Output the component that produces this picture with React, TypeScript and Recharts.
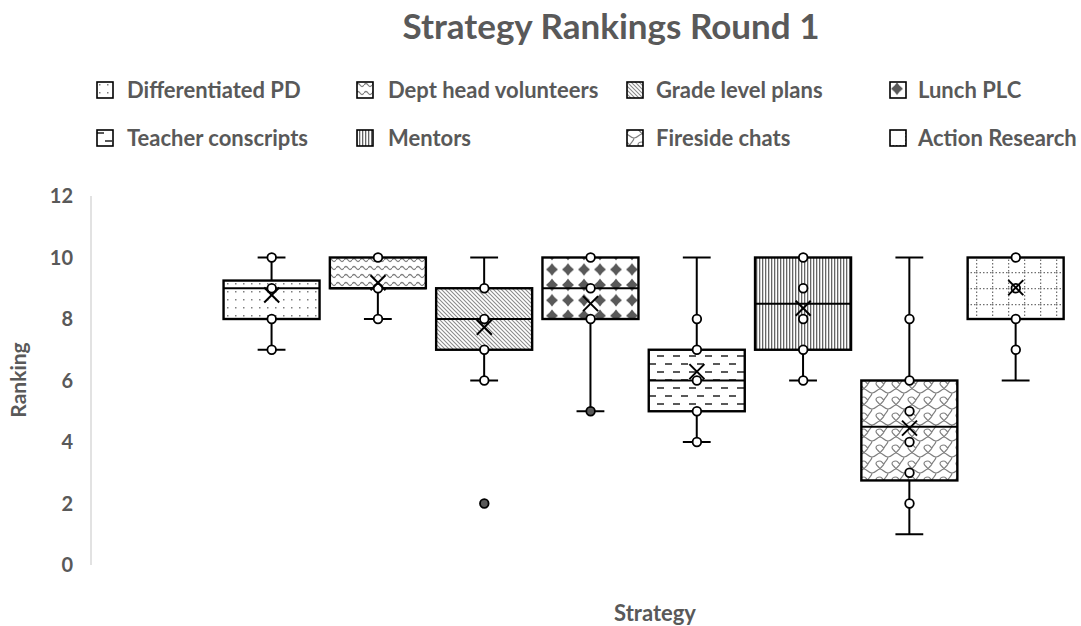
import React from 'react';
import { ComposedChart, Bar, Scatter, XAxis, YAxis } from 'recharts';

// ---------- data ----------
const seriesNames = [
  'Differentiated PD',
  'Dept head volunteers',
  'Grade level plans',
  'Lunch PLC',
  'Teacher conscripts',
  'Mentors',
  'Fireside chats',
  'Action Research',
];
const minValues = [7, 8, 6, 5, 4, 6, 1, 6];
const q1Values = [8, 9, 7, 8, 5, 7, 2.75, 8];
const medianValues: (number | null)[] = [9, 9, 8, 9, 6, 8.5, 4.5, null];
const q3Values = [9.25, 10, 9, 10, 7, 10, 6, 10];
const maxValues = [10, 10, 10, 10, 10, 10, 10, 10];
const meanValues = [8.78, 9.18, 7.73, 8.5, 6.29, 8.35, 4.45, 9.02];
const pointValues = [
  [10, 9, 8, 7],
  [10, 9, 8],
  [9, 8, 7, 6, 2],
  [10, 9, 8, 5],
  [8, 7, 6, 5, 4],
  [10, 9, 8, 7, 6],
  [8, 6, 5, 4, 3, 2],
  [10, 9, 8, 7],
];
const darkPoints = [
  { series: 2, value: 2 },
  { series: 3, value: 5 },
];
const yTicks = [0, 2, 4, 6, 8, 10, 12];

const boxRows = seriesNames.map((name, i) => ({
  name,
  pos: i,
  box: [q1Values[i], q3Values[i]],
  min: minValues[i],
  q1: q1Values[i],
  median: medianValues[i],
  q3: q3Values[i],
  max: maxValues[i],
}));
const pointRows = pointValues.flatMap((vals, i) => vals.map((v) => ({ pos: i, value: v })));
const meanRows = meanValues.map((m, i) => ({ pos: i, value: m }));

const GRAY = '#595959';
const FONT = 'Lato, "Open Sans", sans-serif';

function Patterns() {
  return (
    <svg width={0} height={0} style={{ position: 'absolute' }}>
      <defs>
        <pattern id="pat0" patternUnits="userSpaceOnUse" width={8} height={8}>
          <rect width={8} height={8} fill="#fff" />
          <rect x={3} y={3} width={1.5} height={1.5} fill="#7f7f7f" />
        </pattern>
        <pattern id="pat1" patternUnits="userSpaceOnUse" width={8} height={8}>
          <rect width={8} height={8} fill="#fff" />
          <path d="M0 4 Q2 1 4 4 T8 4" fill="none" stroke="#7f7f7f" strokeWidth={1.3} />
        </pattern>
        <pattern id="pat2" patternUnits="userSpaceOnUse" width={4} height={4}>
          <rect width={4} height={4} fill="#fff" />
          <path d="M0 0 L4 4 M-1 3 L1 5 M3 -1 L5 1" stroke="#8a8a8a" strokeWidth={1.05} />
        </pattern>
        <pattern id="pat3" patternUnits="userSpaceOnUse" width={16} height={15.4}>
          <rect width={16} height={15.4} fill="#fff" />
          <polygon points="8,1.5 10.5,4.5 14,7.7 10.5,10.9 8,13.9 5.5,10.9 2,7.7 5.5,4.5" fill={GRAY} />
        </pattern>
        <pattern id="pat4" patternUnits="userSpaceOnUse" width={16} height={16}>
          <rect width={16} height={16} fill="#fff" />
          <path d="M1 4 L8 4 M9 12 L16 12" stroke={GRAY} strokeWidth={1.8} />
        </pattern>
        <pattern id="pat5" patternUnits="userSpaceOnUse" width={3} height={4}>
          <rect width={3} height={4} fill="#fff" />
          <rect x={0} y={0} width={1.3} height={4} fill="#666" />
        </pattern>
        <pattern id="pat6" patternUnits="userSpaceOnUse" width={16} height={16}>
          <rect width={16} height={16} fill="#fff" />
          <path
            d="M0 5 C3 5 4 9 8 9 C12 9 13 5 16 5 M8 9 C8 12 5 13 4 16 M4 0 C3 2 1 3 0 5 M16 5 C15 3 13 2 12 0 M0 13 C2 13 3 16 4 16 M12 16 C12 13 14 13 16 13"
            fill="none"
            stroke="#7f7f7f"
            strokeWidth={1.2}
          />
        </pattern>
        <pattern id="pat7" patternUnits="userSpaceOnUse" width={16} height={16}>
          <rect width={16} height={16} fill="#fff" />
          <path d="M0 0.6 L16 0.6 M0.6 0 L0.6 16" stroke="#6f6f6f" strokeWidth={1.3} strokeDasharray="1.5 2" />
        </pattern>
      </defs>
    </svg>
  );
}

function BoxShape(props: any) {
  const { x, y, width, height, payload } = props;
  if (!payload) return null;
  const { q1, q3, min, max, median, pos } = payload;
  const top = Math.min(y, y + height);
  const h = Math.abs(height);
  const toPx = (v: number) => top + (h * (q3 - v)) / (q3 - q1);
  const cx = x + width / 2;
  const cap = width * 0.29;
  const line = { stroke: '#000', strokeWidth: 2 };
  return (
    <g>
      {max > q3 && (
        <g>
          <line x1={cx} x2={cx} y1={toPx(max)} y2={top} {...line} />
          <line x1={cx - cap / 2} x2={cx + cap / 2} y1={toPx(max)} y2={toPx(max)} {...line} />
        </g>
      )}
      {min < q1 && (
        <g>
          <line x1={cx} x2={cx} y1={top + h} y2={toPx(min)} {...line} />
          <line x1={cx - cap / 2} x2={cx + cap / 2} y1={toPx(min)} y2={toPx(min)} {...line} />
        </g>
      )}
      <rect x={x} y={top} width={width} height={h} fill={`url(#pat${pos})`} stroke="#000" strokeWidth={2.4} />
      {median != null && (
        <line x1={x} x2={x + width} y1={toPx(median)} y2={toPx(median)} stroke="#000" strokeWidth={2} />
      )}
    </g>
  );
}

function PointShape(props: any) {
  const { cx, cy, payload } = props;
  const dark = darkPoints.some((d) => d.series === payload.pos && d.value === payload.value);
  return <circle cx={cx} cy={cy} r={4.3} fill={dark ? GRAY : '#fff'} stroke="#000" strokeWidth={1.8} />;
}

function MeanShape(props: any) {
  const { cx, cy } = props;
  const s = 7.5;
  return (
    <g stroke="#000" strokeWidth={2}>
      <line x1={cx - s} y1={cy - s} x2={cx + s} y2={cy + s} />
      <line x1={cx - s} y1={cy + s} x2={cx + s} y2={cy - s} />
    </g>
  );
}

const legendIconX = [96, 356, 626, 889];
const legendTextX = [127, 388, 656, 918];
const legendRows = [81, 129];

function LegendBlock() {
  return (
    <>
      {seriesNames.map((name, i) => {
        const col = i % 4;
        const row = Math.floor(i / 4);
        return (
          <React.Fragment key={name}>
            <svg
              width={18}
              height={18}
              style={{ position: 'absolute', left: legendIconX[col], top: legendRows[row], display: 'block' }}
            >
              <rect x={1} y={1} width={16} height={16} fill={`url(#pat${i})`} stroke="#000" strokeWidth={1.6} />
            </svg>
            <div
              style={{
                position: 'absolute',
                left: legendTextX[col],
                top: legendRows[row] - 4,
                fontFamily: FONT,
                fontWeight: 700,
                fontSize: 22,
                color: GRAY,
                lineHeight: '26px',
                whiteSpace: 'nowrap',
              }}
            >
              {name}
            </div>
          </React.Fragment>
        );
      })}
    </>
  );
}

export default function App() {
  return (
    <div
      style={{
        position: 'absolute',
        left: 0,
        top: 0,
        width: 1081,
        height: 626,
        background: '#fff',
        overflow: 'hidden',
      }}
    >
      <Patterns />
      <div style={{ position: 'absolute', left: 0, top: 0 }}>
        <ComposedChart
          width={1081}
          height={626}
          data={boxRows}
          margin={{ top: 196, right: 6, bottom: 61, left: 0 }}
        >
          <XAxis dataKey="pos" type="number" domain={[-1.7, 7.557]} hide height={0} allowDataOverflow />
          <YAxis
            type="number"
            domain={[0, 12]}
            ticks={yTicks}
            width={91}
            tickLine={false}
            tickMargin={12}
            axisLine={{ stroke: '#d9d9d9', strokeWidth: 1.5 }}
            tick={{ fill: GRAY, fontFamily: FONT, fontWeight: 700, fontSize: 20 }}
          />
          <Bar dataKey="box" barSize={96} shape={BoxShape} isAnimationActive={false} />
          <Scatter data={pointRows} dataKey="value" shape={PointShape} isAnimationActive={false} />
          <Scatter data={meanRows} dataKey="value" shape={MeanShape} isAnimationActive={false} />
        </ComposedChart>
      </div>
      <div
        style={{
          position: 'absolute',
          left: 0,
          width: 1222,
          top: 3,
          textAlign: 'center',
          fontFamily: FONT,
          fontWeight: 700,
          fontSize: 35,
          color: GRAY,
          lineHeight: '44px',
        }}
      >
        Strategy Rankings Round 1
      </div>
      <LegendBlock />
      <div
        style={{
          position: 'absolute',
          left: 555,
          width: 200,
          top: 599,
          textAlign: 'center',
          fontFamily: FONT,
          fontWeight: 700,
          fontSize: 22,
          color: GRAY,
          lineHeight: '28px',
        }}
      >
        Strategy
      </div>
      <div
        style={{
          position: 'absolute',
          left: 18 - 60,
          top: 380 - 14,
          width: 120,
          textAlign: 'center',
          transform: 'rotate(-90deg)',
          fontFamily: FONT,
          fontWeight: 700,
          fontSize: 21,
          color: GRAY,
          lineHeight: '28px',
        }}
      >
        Ranking
      </div>
    </div>
  );
}
